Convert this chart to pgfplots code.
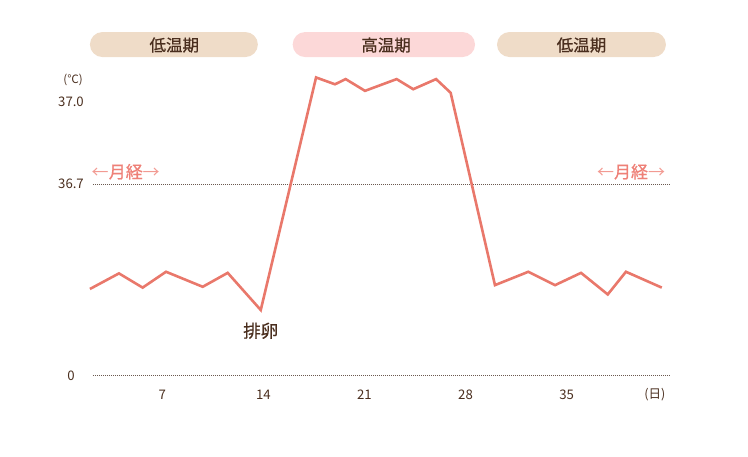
\documentclass[border=0pt]{standalone}
\usepackage{fontspec}
\usepackage{pgfplots}
\pgfplotsset{compat=1.18}
\newfontfamily\jp{Noto Sans CJK JP}
\newfontfamily\jpm[FakeBold=0.7]{Noto Sans CJK JP}

\definecolor{linec}{HTML}{E9786B}
\definecolor{lowpill}{HTML}{EFDCC8}
\definecolor{highpill}{HTML}{FCD8D8}
\definecolor{txt}{HTML}{4A2E1E}
\definecolor{mens}{HTML}{EE8077}
\definecolor{mensarrow}{HTML}{F29A92}
\definecolor{dots}{HTML}{6A5A50}

\begin{document}
\begin{tikzpicture}
  \useasboundingbox (0,0) rectangle (748pt,456pt);
  \begin{axis}[
      at={(61.2pt,67pt)}, anchor=south west,
      scale only axis,
      width=649.8pt, height=341.6pt,
      xmin=0, xmax=45,
      ymin=35.95, ymax=37.2,
      clip=false,
      axis line style={draw=none},
      tick style={draw=none},
      xtick={7,14,21,28,35},
      ytick={36.0,36.7,37.0},
      yticklabels={0,36.7,37.0},
      /pgf/number format/assume math mode=true,
      ticklabel style={font=\jp\fontsize{13.2}{15}\selectfont, text=txt},
      xticklabel style={anchor=center, yshift=-6pt},
      yticklabel style={anchor=center, xshift=9.8pt},
    ]
    % reference lines
    \draw[dots, line width=0.7pt, dash pattern=on 0.8pt off 1.2pt]
      (axis cs:2.2,36.7) -- (axis cs:42.2,36.7);
    \draw[dots, line width=0.7pt, dash pattern=on 0.8pt off 1.2pt]
      (axis cs:2.2,36.0) -- (axis cs:42.2,36.0);

    % phase pills
    \fill[lowpill, rounded corners=12.5pt]
      (axis cs:1.99,37.2562) rectangle (axis cs:13.62,37.1647);
    \fill[highpill, rounded corners=12.5pt]
      (axis cs:16.03,37.2562) rectangle (axis cs:28.66,37.1647);
    \fill[lowpill, rounded corners=12.5pt]
      (axis cs:30.18,37.2562) rectangle (axis cs:41.88,37.1647);
    \node[font=\jpm\fontsize{16.5}{18}\selectfont, text=txt]
      at (axis cs:7.83,37.2086) {低温期};
    \node[font=\jpm\fontsize{16.5}{18}\selectfont, text=txt]
      at (axis cs:22.50,37.2086) {高温期};
    \node[font=\jpm\fontsize{16.5}{18}\selectfont, text=txt]
      at (axis cs:36.03,37.2086) {低温期};

    % temperature curve
    \addplot[linec, line width=2.6pt, line join=miter, no marks] coordinates {
      (1.99,36.316) (4.00,36.373) (5.64,36.321) (7.26,36.379)
      (9.80,36.324) (11.53,36.375) (13.82,36.239) (17.65,37.090)
      (18.96,37.065) (19.70,37.084) (21.04,37.041) (23.23,37.084)
      (24.38,37.047) (25.96,37.084) (26.97,37.034) (30.04,36.330)
      (32.35,36.379) (34.20,36.330) (36.00,36.375) (37.85,36.296)
      (39.11,36.379) (41.59,36.321)
    };

    % annotations
    \node[font=\jp\fontsize{11.5}{13}\selectfont, text=txt]
      at (axis cs:0.82,37.0805) {(℃)};
    \node[font=\jp\fontsize{12.5}{14}\selectfont, text=txt]
      at (axis cs:41.12,35.928) {(日)};
    \node[font=\jpm\fontsize{17.5}{19}\selectfont, text=txt]
      at (axis cs:13.82,36.163) {排卵};
    \node[font=\jp\fontsize{17}{19}\selectfont, text=mens]
      at (axis cs:4.47,36.745)
      {\textcolor{mensarrow}{←}{\jpm 月経}\textcolor{mensarrow}{→}};
    \node[font=\jp\fontsize{17}{19}\selectfont, text=mens]
      at (axis cs:39.46,36.745)
      {\textcolor{mensarrow}{←}{\jpm 月経}\textcolor{mensarrow}{→}};
  \end{axis}
\end{tikzpicture}
\end{document}
